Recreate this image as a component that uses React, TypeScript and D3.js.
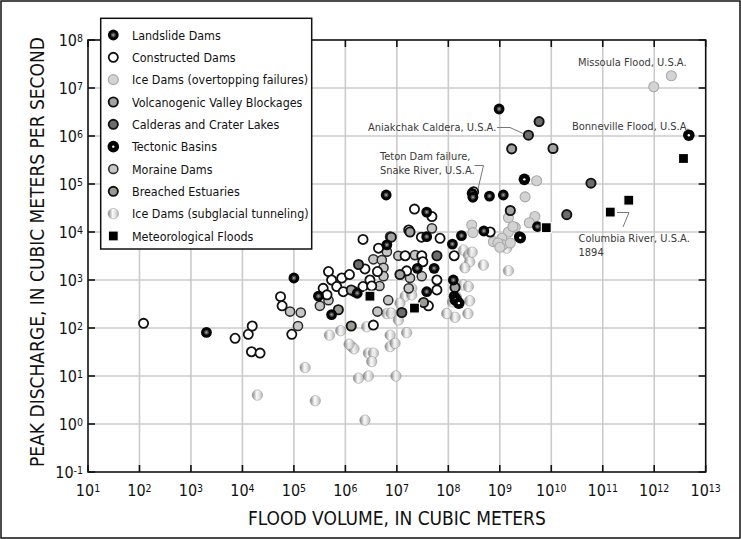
import React, { useRef, useEffect } from "react";
import * as d3 from "d3";

// [flood volume (m3), peak discharge (m3/s)]
type Pt = [number, number];

const landslideDams: Pt[] = [
    [2.0e3, 81], [1.0e5, 1.1e3], [6.2e6, 5.9e4], [3.8e7, 2.6e4], [3.8e7, 8.0e3],
    [1.2e8, 5.6e3], [1.8e8, 8.4e3], [4.9e8, 1.05e4], [2.9e8, 6.4e4], [3.0e8, 5.3e4],
    [6.3e8, 5.6e4], [1.17e9, 5.9e4], [9.7e8, 3.65e6], [5.4e9, 1.3e4], [2.4e9, 8.0e3],
    [6.4e6, 5.4e3], [2.5e7, 1.75e3], [5.3e7, 1.75e3], [1.25e8, 1.0e3], [3.0e5, 4.6e2],
    [5.4e5, 1.9e2], [1.7e6, 5.3e2], [3.8e7, 5.7e2], [1.35e8, 3.8e2], [1.3e8, 4.6e2],
];

const constructedDams: Pt[] = [
    [1.2e2, 1.25e2], [7.2e3, 61], [1.3e4, 74], [1.55e4, 1.1e2], [1.5e4, 32],
    [2.2e4, 30], [5.5e4, 4.5e2], [5.9e4, 2.9e2], [9.1e4, 74], [3.1e8, 6.9e4],
    [2.2e7, 3.0e4], [4.8e7, 2.1e4], [1.7e7, 1.1e4], [3.0e7, 7.8e3], [6.9e7, 7.4e3],
    [6.5e8, 1.0e4], [2.2e6, 7.0e3], [4.4e6, 4.6e3], [1.45e7, 3.2e3], [3.05e7, 3.2e3],
    [3.2e7, 2.4e3], [1.3e8, 3.2e3], [2.4e6, 1.7e3], [1.55e7, 1.55e3], [6.0e7, 1.0e3],
    [4.7e5, 1.5e3], [8.5e5, 1.1e3], [5.4e5, 1.0e3], [1.2e6, 1.3e3], [3.7e5, 6.7e2],
    [6.8e5, 7.3e2], [9.1e5, 5.7e2], [1.5e6, 5.7e2], [2.2e6, 7.3e2], [3.0e6, 1.0e3],
    [3.25e6, 7.5e2], [4.4e5, 4.9e2], [3.5e6, 1.15e2], [4.1e7, 2.9e2], [4.2e6, 1.5e3],
    [6.0e7, 6.2e2],
];

const iceDamsOvertopping: Pt[] = [
    [9.8e11, 1.06e7], [2.15e12, 1.8e7], [5.2e9, 1.17e5], [3.1e9, 5.4e4], [4.8e9, 2.1e4],
    [3.75e9, 1.56e4], [2.0e9, 1.25e4], [1.47e9, 1.0e4], [1.1e9, 7.4e3], [1.47e9, 2.0e4],
    [1.8e9, 1.3e4], [2.85e8, 1.4e4], [3.0e8, 9.7e3], [7.5e8, 6.3e3], [1.16e9, 5.4e3],
    [1.6e9, 5.9e3], [9.2e8, 5.9e3], [1.0e9, 4.8e3],
];

const volcanogenic: Pt[] = [
    [1.08e10, 5.5e5], [1.7e9, 5.4e5], [1.6e9, 2.8e4], [1.8e7, 1.0e4], [7.8e6, 7.8e3],
    [1.3e6, 6.2e2], [1.35e8, 7.0e2], [1.15e7, 1.3e3],
];

const calderas: Pt[] = [
    [3.6e9, 1.04e6], [5.8e9, 2.0e6], [5.9e10, 1.04e5], [2.0e10, 2.3e4], [1.8e6, 2.1e3],
    [1.25e7, 2.1e2], [6.0e7, 3.2e3],
];

const tectonicBasins: Pt[] = [
    [4.7e12, 1.04e6], [3.0e9, 1.25e5], [2.5e9, 7.6e3], [1.4e8, 4.0e2], [1.6e8, 3.3e2],
];

const moraineDams: Pt[] = [
    [8.4e4, 2.2e2], [1.36e5, 2.1e2], [1.2e5, 1.1e2], [4.8e7, 1.19e4], [6.4e6, 3.9e3],
    [3.5e6, 2.7e3], [1.07e7, 3.2e3], [2.25e7, 3.3e3], [5.1e6, 2.6e3], [5.5e6, 1.8e3],
    [5.5e6, 1.2e3], [1.8e7, 1.1e3], [3.05e7, 1.2e3], [3.2e5, 2.9e2], [4.7e5, 3.8e2],
    [4.6e6, 7.5e2], [6.8e6, 3.8e2], [4.2e6, 2.2e2], [1.7e7, 6.7e2], [7.4e6, 8.0e3],
];

const breachedEstuaries: Pt[] = [[7.3e5, 2.4e2], [1.3e6, 1.1e2], [3.3e7, 3.4e2]];

const iceDamsSubglacial: Pt[] = [
    [1.95e4, 4.0], [1.65e5, 15], [2.6e5, 3.05], [2.4e6, 1.2], [4.9e5, 71],
    [8.1e5, 88], [2.6e6, 1.06e2], [7.4e6, 71], [1.55e7, 80], [7.4e6, 41],
    [9.2e6, 48], [1.33e6, 41], [1.47e6, 37], [1.18e6, 46], [2.8e6, 30],
    [3.5e6, 30], [3.25e6, 20], [1.8e6, 9.0], [2.8e6, 10], [9.6e6, 10],
    [2.6e8, 3.7e2], [2.4e8, 2.0e2], [1.35e8, 1.67e2], [9.3e7, 2.0e2], [1.96e8, 4.2e3],
    [2.45e8, 3.3e3], [2.6e8, 2.4e3], [2.1e8, 1.8e3], [2.9e8, 3.8e3], [4.8e8, 2.05e3],
    [1.47e9, 1.56e3], [1.36e9, 4.6e3], [1.95e7, 6.7e2], [1.45e7, 4.6e2], [1.95e7, 4.9e2],
    [6.4e6, 2.0e2], [7.7e6, 2.05e2], [1.07e7, 1.47e2], [1.3e8, 3.8e2], [1.45e8, 4.2e2],
    [1.2e8, 3.5e2], [1.55e8, 3.3e2], [1.4e8, 4.6e2], [1.96e8, 7.9e2], [2.45e8, 7.3e2],
    [1.15e7, 3.3e2],
];

const meteorologicalFloods: Pt[] = [
    [3.7e12, 3.4e5], [3.2e11, 4.6e4], [1.4e11, 2.6e4], [8.0e9, 1.23e4], [3.0e6, 4.6e2],
    [2.2e7, 2.6e2],
];

const legendLabels = [
    "Landslide Dams",
    "Constructed Dams",
    "Ice Dams (overtopping failures)",
    "Volcanogenic Valley Blockages",
    "Calderas and Crater Lakes",
    "Tectonic Basins",
    "Moraine Dams",
    "Breached Estuaries",
    "Ice Dams (subglacial tunneling)",
    "Meteorological Floods",
];
const legendKinds = [
    "landslide", "constructed", "overtop", "volcano", "caldera",
    "tectonic", "moraine", "estuary", "subglacial", "meteo",
];

const xExponents = d3.range(1, 14);
const yExponents = d3.range(-1, 9);

const FONT = "'Liberation Sans Narrow', 'Arial Narrow', 'DejaVu Sans Condensed', sans-serif";

const App: React.FC = () => {
    const svgRef = useRef<SVGSVGElement | null>(null);

    useEffect(() => {
        document.body.style.margin = "0";
        const width = 741;
        const height = 539;
        const left = 88, right = 705.7, top = 40, bottom = 472;

        const x = d3.scaleLog().domain([1e1, 1e13]).range([left, right]);
        const y = d3.scaleLog().domain([1e-1, 1e8]).range([bottom, top]);

        const svg = d3.select(svgRef.current!);
        svg.selectAll("*").remove();
        svg.attr("font-family", FONT).style("font-stretch", "condensed");

        svg.append("rect").attr("width", width).attr("height", height).attr("fill", "#fff");
        svg.append("rect")
            .attr("x", 1).attr("y", 1).attr("width", width - 2).attr("height", height - 2)
            .attr("fill", "none").attr("stroke", "#111").attr("stroke-width", 1.5);

        const defs = svg.append("defs");
        const grad = defs.append("linearGradient").attr("id", "subgl")
            .attr("x1", 0).attr("x2", 1).attr("y1", 0).attr("y2", 0);
        grad.append("stop").attr("offset", "0%").attr("stop-color", "#6a6a6a");
        grad.append("stop").attr("offset", "42%").attr("stop-color", "#f6f6f6");
        grad.append("stop").attr("offset", "60%").attr("stop-color", "#ececec");
        grad.append("stop").attr("offset", "100%").attr("stop-color", "#a8a8a8");

        // grid
        const grid = svg.append("g").attr("stroke", "#cbcbcb").attr("stroke-width", 1.6);
        xExponents.slice(1, -1).forEach((e) => {
            grid.append("line").attr("x1", x(10 ** e)).attr("x2", x(10 ** e))
                .attr("y1", top).attr("y2", bottom);
        });
        yExponents.slice(1, -1).forEach((e) => {
            grid.append("line").attr("y1", y(10 ** e)).attr("y2", y(10 ** e))
                .attr("x1", left).attr("x2", right);
        });

        const drawMarker = (g: d3.Selection<SVGGElement, unknown, null, undefined>, kind: string) => {
            const r = 4.6;
            switch (kind) {
                case "landslide":
                    g.append("circle").attr("r", 5.4).attr("fill", "#050505");
                    g.append("circle").attr("r", 2.4).attr("fill", "#4c4c4c");
                    g.append("circle").attr("r", 1.1).attr("fill", "#9a9a9a");
                    break;
                case "tectonic":
                    g.append("circle").attr("r", 5.8).attr("fill", "#050505");
                    g.append("circle").attr("r", 1.2).attr("fill", "#fff");
                    break;
                case "constructed":
                    g.append("circle").attr("r", r).attr("fill", "#fff")
                        .attr("stroke", "#111").attr("stroke-width", 1.8);
                    break;
                case "overtop":
                    g.append("circle").attr("r", 5).attr("fill", "#d3d3d3")
                        .attr("stroke", "#a9a9a9").attr("stroke-width", 1.1);
                    break;
                case "volcano":
                    g.append("circle").attr("r", r).attr("fill", "#a3a3a3")
                        .attr("stroke", "#111").attr("stroke-width", 1.9);
                    break;
                case "caldera":
                    g.append("circle").attr("r", r).attr("fill", "#6c6c6c")
                        .attr("stroke", "#111").attr("stroke-width", 1.9);
                    break;
                case "moraine":
                    g.append("circle").attr("r", r).attr("fill", "#c6c6c6")
                        .attr("stroke", "#2a2a2a").attr("stroke-width", 1.5);
                    break;
                case "estuary":
                    g.append("circle").attr("r", r).attr("fill", "#9a9c92")
                        .attr("stroke", "#111").attr("stroke-width", 1.9);
                    break;
                case "subglacial":
                    g.append("circle").attr("r", 5.2).attr("fill", "url(#subgl)")
                        .attr("stroke", "#8c8c8c").attr("stroke-width", 0.6)
                        .attr("opacity", 0.85);
                    break;
                case "meteo":
                    g.append("rect").attr("x", -5).attr("y", -5).attr("width", 10).attr("height", 10)
                        .attr("fill", "#000").attr("stroke", "#fff").attr("stroke-width", 1.2);
                    break;
            }
        };

        const layers: [Pt[], string][] = [
            [iceDamsSubglacial, "subglacial"],
            [iceDamsOvertopping, "overtop"],
            [moraineDams, "moraine"],
            [constructedDams, "constructed"],
            [volcanogenic, "volcano"],
            [breachedEstuaries, "estuary"],
            [calderas, "caldera"],
            [landslideDams, "landslide"],
            [tectonicBasins, "tectonic"],
            [meteorologicalFloods, "meteo"],
        ];
        const pts = svg.append("g");
        layers.forEach(([data, kind]) => {
            data.forEach(([v, q]) => {
                const g = pts.append("g").attr("transform", `translate(${x(v)},${y(q)})`);
                drawMarker(g, kind);
            });
        });

        // frame and ticks
        svg.append("rect").attr("x", left).attr("y", top)
            .attr("width", right - left).attr("height", bottom - top)
            .attr("fill", "none").attr("stroke", "#111").attr("stroke-width", 1.6);
        const ticks = svg.append("g").attr("stroke", "#111").attr("stroke-width", 1.6);
        xExponents.forEach((e) => {
            const px = x(10 ** e);
            ticks.append("line").attr("x1", px).attr("x2", px).attr("y1", bottom).attr("y2", bottom - 7);
            ticks.append("line").attr("x1", px).attr("x2", px).attr("y1", top).attr("y2", top + 7);
        });
        yExponents.forEach((e) => {
            const py = y(10 ** e);
            ticks.append("line").attr("y1", py).attr("y2", py).attr("x1", left).attr("x2", left + 7);
            ticks.append("line").attr("y1", py).attr("y2", py).attr("x1", right).attr("x2", right - 7);
        });

        // tick labels
        const tickLabel = (sel: d3.Selection<SVGTextElement, unknown, null, undefined>, e: number) => {
            sel.append("tspan").text("10");
            sel.append("tspan").attr("dy", -4).attr("font-size", 10.5).text(String(e));
        };
        xExponents.forEach((e) => {
            const t = svg.append("text").attr("x", x(10 ** e)).attr("y", 496)
                .attr("text-anchor", "middle").attr("font-size", 16).attr("fill", "#111");
            tickLabel(t, e);
        });
        yExponents.forEach((e) => {
            const t = svg.append("text").attr("x", 83).attr("y", y(10 ** e) + 5.5)
                .attr("text-anchor", "end").attr("font-size", 16).attr("fill", "#111");
            tickLabel(t, e);
        });

        // axis titles
        svg.append("text").attr("x", (left + right) / 2).attr("y", 525)
            .attr("text-anchor", "middle").attr("font-size", 19).attr("fill", "#111")
            .text("FLOOD VOLUME, IN CUBIC METERS");
        svg.append("text").attr("transform", "translate(44,252) rotate(-90)")
            .attr("text-anchor", "middle").attr("font-size", 19).attr("fill", "#111")
            .text("PEAK DISCHARGE, IN CUBIC METERS PER SECOND");

        // annotations
        const ann = svg.append("g").attr("font-size", 11).attr("fill", "#3a3a3a");
        const note = (tx: number, ty: number, s: string) =>
            ann.append("text").attr("x", tx).attr("y", ty).text(s);
        note(578, 66, "Missoula Flood, U.S.A.");
        note(572, 130, "Bonneville Flood, U.S.A.");
        note(368, 130.5, "Aniakchak Caldera, U.S.A.");
        note(380, 159.5, "Teton Dam failure,");
        note(380, 173.5, "Snake River, U.S.A.");
        note(578.5, 241.5, "Columbia River, U.S.A.");
        note(578.5, 255.5, "1894");
        const lead = svg.append("g").attr("fill", "none").attr("stroke", "#777").attr("stroke-width", 1);
        const line = d3.line();
        lead.append("path").attr("d", line([[497, 127.5], [510, 127.5], [523, 133.5]]));
        lead.append("path").attr("d", line([[474.5, 165.5], [483.5, 165.5], [478, 189]]));
        lead.append("path").attr("d", line([[617, 212.5], [629, 212.5], [623, 227]]));

        // legend
        const lg = svg.append("g");
        lg.append("rect").attr("x", 100.7).attr("y", 18.3).attr("width", 211).attr("height", 230.7)
            .attr("fill", "#fff").attr("stroke", "#111").attr("stroke-width", 1.5);
        legendLabels.forEach((label, i) => {
            const cy = 35 + i * 22.33;
            const g = lg.append("g").attr("transform", `translate(113.3,${cy})`);
            drawMarker(g, legendKinds[i]);
            lg.append("text").attr("x", 132).attr("y", cy + 4.6)
                .attr("font-size", 12.4).attr("fill", "#111").text(label);
        });
    }, []);

    return <svg ref={svgRef} width={741} height={539} style={{ display: "block" }} />;
};

export default App;
